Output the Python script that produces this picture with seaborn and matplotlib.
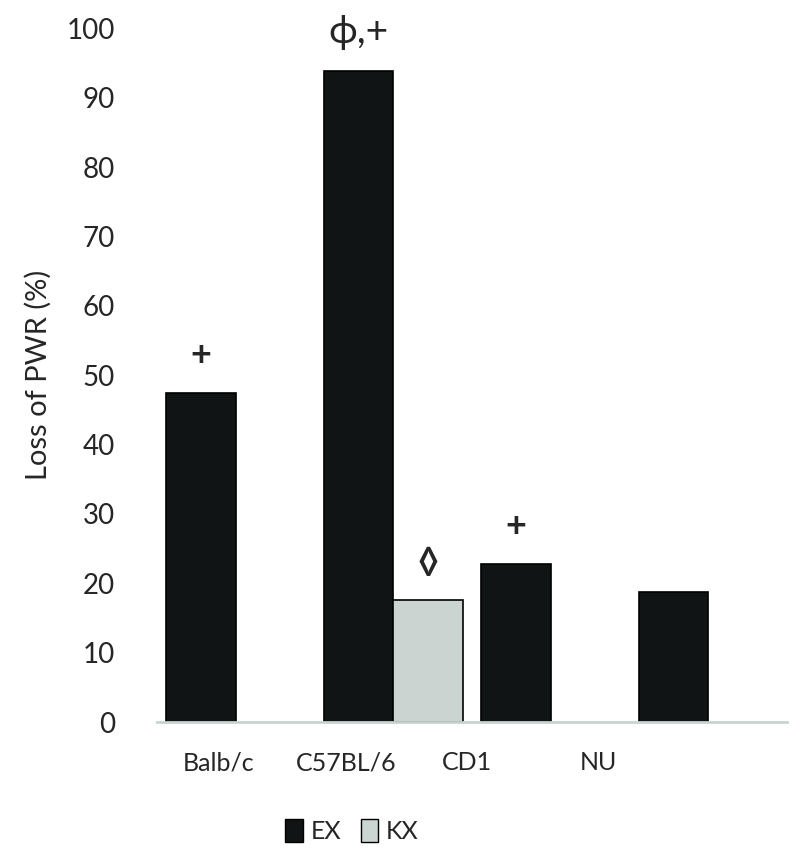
import numpy as np
import pandas as pd
import seaborn as sns
import matplotlib.pyplot as plt

# values
strains = ['Balb/c', 'C57BL/6', 'CD1', 'NU']
ex_values = [47.4, 93.8, 22.8, 18.7]
kx_values = [np.nan, 17.6, np.nan, np.nan]
ex_marks = ['+', 'ϕ,+', '+', '']
kx_marks = ['◊']
# where the category labels sit (shifted like in the original figure)
label_pos = [-0.11, 0.70, 1.47, 2.30]

sns.set_style('white')
plt.rcParams['font.family'] = ['Lato', 'DejaVu Sans']

df = pd.DataFrame({
    'strain': strains * 2,
    'group': ['EX'] * 4 + ['KX'] * 4,
    'loss': ex_values + kx_values,
}).dropna()

fig, ax = plt.subplots(figsize=(8, 8.56), dpi=100)
fig.subplots_adjust(left=0.196, right=0.984, bottom=0.1565, top=0.967)

sns.barplot(data=df, x='strain', y='loss', hue='group', order=strains,
            hue_order=['EX', 'KX'], palette=['#101415', '#cbd5d2'],
            width=0.88, gap=0, edgecolor='black', linewidth=1.2,
            errorbar=None, ax=ax)

ax.set_xlim(-0.5, 3.5)
ax.set_ylim(0, 100)
ax.set_yticks(range(0, 101, 10))
ax.tick_params(axis='y', length=0, pad=30, labelsize=20)
ax.set_xticks(label_pos)
ax.set_xticklabels(strains)
ax.tick_params(axis='x', length=0, pad=21, labelsize=18)
ax.set_xlabel('')
ax.set_ylabel('Loss of PWR (%)', fontsize=21)
ax.yaxis.set_label_coords(-0.167, 0.5)

for s in ['top', 'right', 'left']:
    ax.spines[s].set_visible(False)
ax.spines['bottom'].set_color('#c8d4d2')
ax.spines['bottom'].set_linewidth(2)

# significance marks above bars
txts = ax.bar_label(ax.containers[0], labels=ex_marks, padding=15,
                    fontsize=26, fontweight='bold')
txts[1].set_fontsize(28)
txts[1].set_fontweight('normal')
ax.bar_label(ax.containers[1], labels=kx_marks, padding=14, fontsize=26,
             fontweight='bold')

ax.get_legend().remove()
handles = [plt.Rectangle((0, 0), 1, 1, fc='#101415', ec='black', lw=1),
           plt.Rectangle((0, 0), 1, 1, fc='#cbd5d2', ec='black', lw=1)]
fig.legend(handles, ['EX', 'KX'], loc='center', bbox_to_anchor=(0.44, 0.029),
           ncol=2, frameon=False, fontsize=18, handlelength=0.7,
           handleheight=1.0, handletextpad=0.3, columnspacing=0.8)

fig.savefig('out.png', dpi=100)
